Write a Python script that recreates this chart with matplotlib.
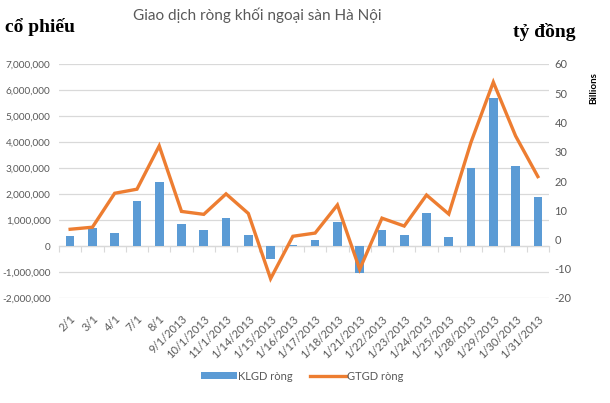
import matplotlib
matplotlib.use("Agg")
import matplotlib.pyplot as plt
import numpy as np
from matplotlib.ticker import FuncFormatter, MultipleLocator, FixedLocator

plt.rcParams['font.family'] = ['Lato', 'DejaVu Sans']

categories = ["2/1", "3/1", "4/1", "7/1", "8/1", "9/1/2013", "10/1/2013", "11/1/2013",
              "1/14/2013", "1/15/2013", "1/16/2013", "1/17/2013", "1/18/2013", "1/21/2013",
              "1/22/2013", "1/23/2013", "1/24/2013", "1/25/2013", "1/28/2013", "1/29/2013",
              "1/30/2013", "1/31/2013"]
klgd = [390000, 700000, 510000, 1730000, 2470000, 850000, 620000, 1080000,
        430000, -510000, 40000, 240000, 940000, -1040000, 620000, 430000,
        1270000, 340000, 3000000, 5700000, 3070000, 1880000]
gtgd = [3.5, 4.2, 15.8, 17.2, 32.0, 9.6, 8.6, 15.6, 8.9, -13.4, 1.1, 2.2,
        11.8, -10.2, 7.3, 4.6, 15.2, 8.7, 33.3, 53.8, 35.4, 21.5]
gtgd_vnd = [v * 1e9 for v in gtgd]

blue = "#5B9BD5"
orange = "#ED7D31"
gray = "#595959"
grid = "#D9D9D9"

W, H = 610, 403
fig = plt.figure(figsize=(W / 100, H / 100), dpi=100)
ax = fig.add_axes([59 / W, 1 - 298 / H, (549 - 59) / W, (298 - 64) / H])
x = np.arange(len(categories))

ax.bar(x, klgd, width=0.39, color=blue, zorder=3, label="KLGD ròng")
ax.set_xlim(-0.5, len(categories) - 0.5)
ax.set_ylim(-2000000, 7000000)
ax.yaxis.set_major_locator(MultipleLocator(1000000))
ax.yaxis.set_major_formatter(FuncFormatter(lambda v, p: f"{int(v):,}"))
ax.grid(axis='y', color=grid, linewidth=0.9, zorder=0)
ax.tick_params(axis='y', length=0, pad=6, labelsize=7.2, labelcolor=gray)
for s in ['top', 'left', 'right']:
    ax.spines[s].set_visible(False)
ax.spines['bottom'].set_position(('data', 0))
ax.spines['bottom'].set_color(grid)
ax.spines['bottom'].set_linewidth(0.9)
ax.xaxis.set_major_locator(FixedLocator(np.arange(-0.5, len(categories), 1.0)))
ax.tick_params(axis='x', length=4, color=grid, labelbottom=False, direction='out')

sec = ax.secondary_xaxis(location=0.0)
sec.set_xticks(x)
sec.set_xticklabels(categories, rotation=45, ha='right', rotation_mode='anchor')
sec.tick_params(length=0, pad=11, labelsize=8, labelcolor=gray)
sec.spines['bottom'].set_visible(False)

ax2 = ax.twinx()
ax2.plot(x, gtgd_vnd, color=orange, linewidth=2.4, zorder=4, solid_joinstyle='miter',
         label="GTGD ròng")
ax2.set_ylim(-20e9, 60e9)
ax2.yaxis.set_major_locator(MultipleLocator(10e9))
ax2.yaxis.set_major_formatter(FuncFormatter(lambda v, p: f"{v / 1e9:g}"))
ax2.tick_params(axis='y', length=0, pad=4, labelsize=8, labelcolor=gray)
for s in ax2.spines.values():
    s.set_visible(False)

fig.text(257 / W, 1 - 15 / H, "Giao dịch ròng khối ngoại sàn Hà Nội", ha='center', va='center',
         fontsize=11, color=gray)
fig.text(5 / W, 1 - 32 / H, "cổ phiếu", ha='left', va='baseline', fontsize=14,
         fontweight='bold', family=['Liberation Serif', 'DejaVu Serif'], color='black')
fig.text(513 / W, 1 - 37 / H, "tỷ đồng", ha='left', va='baseline', fontsize=14,
         fontweight='bold', family=['Liberation Serif', 'DejaVu Serif'], color='black')
fig.text(594 / W, 1 - 88 / H, "Billions", rotation=90, ha='center', va='center',
         fontsize=7, fontweight='bold', color='black')

h1, l1 = ax.get_legend_handles_labels()
h2, l2 = ax2.get_legend_handles_labels()
leg = fig.legend(h1 + h2, l1 + l2, loc='center', bbox_to_anchor=(302 / W, 1 - 376 / H),
                 ncol=2, frameon=False, fontsize=8, handlelength=3.2, handleheight=0.5,
                 handletextpad=0.1, columnspacing=1.6, labelcolor=gray)

fig.savefig("out.png", dpi=100)
